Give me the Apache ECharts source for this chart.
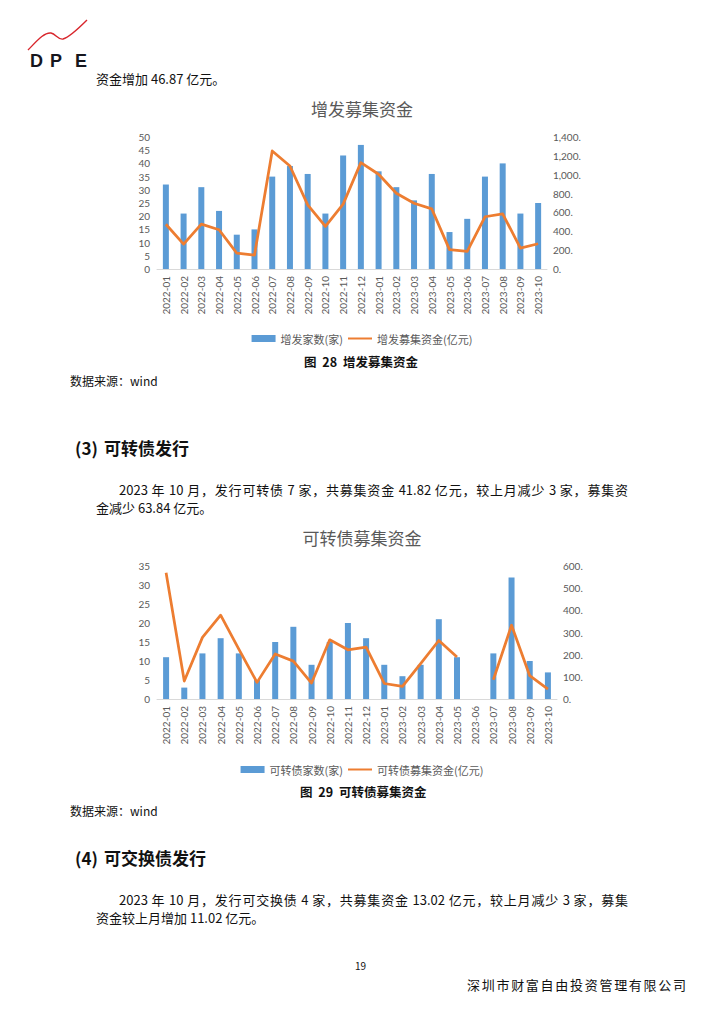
<!DOCTYPE html>
<html><head><meta charset="utf-8">
<script src="https://cdn.jsdelivr.net/npm/echarts/dist/echarts.min.js"></script>
<style>
html,body{margin:0;padding:0;background:#fff;}
body{width:724px;height:1024px;position:relative;overflow:hidden;font-family:"Noto Sans CJK SC","Noto Sans",sans-serif;color:#111;}
.t{position:absolute;white-space:nowrap;line-height:1;}
.p{font-size:13px;}
.j{text-align:justify;text-align-last:justify;}
.h{font-size:17px;font-weight:bold;}
.cap{font-size:12.5px;font-weight:bold;word-spacing:3px;}
.src{font-size:12px;}
#chart{position:absolute;left:0;top:0;width:724px;height:1024px;}
</style>
</head><body>
<div id="chart"></div>
<svg style="position:absolute;left:0;top:0" width="100" height="70">
  <path d="M28,50 C36,42 44,32 51,33 C56,34 58,40 63,39 C70,37 80,27 87,20" fill="none" stroke="#d8262c" stroke-width="1.4"/>
</svg>
<div class="t" style="left:30px;top:52px;font-size:18px;font-weight:bold;font-family:'Liberation Sans',Arial,sans-serif;color:#16161e;">D</div>
<div class="t" style="left:50px;top:52px;font-size:18px;font-weight:bold;font-family:'Liberation Sans',Arial,sans-serif;color:#16161e;">P</div>
<div class="t" style="left:75px;top:52px;font-size:18px;font-weight:bold;font-family:'Liberation Sans',Arial,sans-serif;color:#16161e;">E</div>

<div class="t p" style="left:96px;top:72px;">资金增加 46.87 亿元。</div>

<div class="t cap" style="left:304px;top:356px;">图 28 增发募集资金</div>
<div class="t src" style="left:70px;top:375px;">数据来源：wind</div>

<div class="t h" style="left:75px;top:439px;">(3)<span style="margin-left:6px">可转债发行</span></div>
<div class="t p j" style="left:119px;top:483px;width:509px;">2023 年 10 月，发行可转债 7 家，共募集资金 41.82 亿元，较上月减少 3 家，募集资</div>
<div class="t p" style="left:96px;top:501px;">金减少 63.84 亿元。</div>

<div class="t cap" style="left:300px;top:786px;">图 29 可转债募集资金</div>
<div class="t src" style="left:70px;top:805px;">数据来源：wind</div>

<div class="t h" style="left:75px;top:849px;">(4)<span style="margin-left:6px">可交换债发行</span></div>
<div class="t p j" style="left:119px;top:893px;width:509px;">2023 年 10 月，发行可交换债 4 家，共募集资金 13.02 亿元，较上月减少 3 家，募集</div>
<div class="t p" style="left:96px;top:911px;">资金较上月增加 11.02 亿元。</div>

<div class="t" style="left:355px;top:961px;font-size:10px;">19</div>
<div class="t j" style="left:467px;top:978px;width:219px;font-size:13px;">深圳市财富自由投资管理有限公司</div>

<script>
// ---- data ----
const months = ['2022-01','2022-02','2022-03','2022-04','2022-05','2022-06','2022-07','2022-08','2022-09','2022-10','2022-11','2022-12',
                '2023-01','2023-02','2023-03','2023-04','2023-05','2023-06','2023-07','2023-08','2023-09','2023-10'];
const zfCount  = [32,21,31,22,13,15,35,39,36,21,43,47,37,31,26,36,14,19,35,40,21,25];
const zfAmount = [475,264,476,416,169,148,1252,1093,680,451,688,1128,1005,804,698,638,205,187,554,585,222,268];
const kzzCount  = [11,3,12,16,12,5,15,19,9,15,20,16,9,6,9,21,11,0,12,32,10,7];
const kzzAmount = [570,81,278,378,225,75,203,171,72,267,222,234,70,57,160,264,189,null,87,333,105,45];
const zfNames  = ['增发家数(家)','增发募集资金(亿元)'];
const kzzNames = ['可转债家数(家)','可转债募集资金(亿元)'];
const chartTitles = ['增发募集资金','可转债募集资金'];

const BLUE = '#5B9BD5', ORANGE = '#ED7D31', GREY = '#595959';
const numFont = 'Lato, "Noto Sans", sans-serif';
const cjkFont = '"Noto Sans CJK SC", sans-serif';

function xAx(gi){
  return {type:'category', gridIndex:gi, data:months, boundaryGap:true,
    axisTick:{show:false}, axisLine:{show:true, lineStyle:{color:'#D9D9D9', width:1}},
    axisLabel:{rotate:90, interval:0, fontSize:10, color:GREY, margin:7, fontFamily:numFont}};
}
function yAx(gi, pos, max, interval, fmt, margin){
  return {type:'value', gridIndex:gi, position:pos, min:0, max:max, interval:interval,
    splitLine:{show:false}, axisLine:{show:false}, axisTick:{show:false},
    axisLabel:{fontSize:10, color:GREY, margin:margin, fontFamily:numFont, formatter:fmt}};
}
const dotFmt = v => v.toLocaleString('en-US') + '.';
function legendData(names){
  return [{name:names[0], icon:'rect'},
          {name:names[1], itemStyle:{opacity:0}}];
}

const chart = echarts.init(document.getElementById('chart'), null, {renderer:'svg'});
chart.setOption({
  backgroundColor:'transparent',
  animation:false,
  title:[
    {text:chartTitles[0], left:'center', top:95, textStyle:{fontSize:17, fontWeight:'normal', color:GREY, fontFamily:cjkFont}},
    {text:chartTitles[1], left:'center', top:524, textStyle:{fontSize:17, fontWeight:'normal', color:GREY, fontFamily:cjkFont}}
  ],
  legend:[
    {data:legendData(zfNames), left:'center', top:328, itemWidth:24, itemHeight:7, itemGap:4,
     textStyle:{fontSize:11, color:GREY, fontFamily:cjkFont}},
    {data:legendData(kzzNames), left:'center', top:759, itemWidth:24, itemHeight:7, itemGap:4,
     textStyle:{fontSize:11, color:GREY, fontFamily:cjkFont}}
  ],
  grid:[
    {left:157, top:137, width:390, height:132},
    {left:157, top:566, width:400, height:133}
  ],
  xAxis:[xAx(0), xAx(1)],
  yAxis:[
    yAx(0,'left',50,5,null,7),
    yAx(0,'right',1400,200,dotFmt,6),
    yAx(1,'left',35,5,null,7),
    yAx(1,'right',600,100,dotFmt,6)
  ],
  series:[
    {name:zfNames[0], type:'bar', xAxisIndex:0, yAxisIndex:0, data:zfCount, barWidth:6, itemStyle:{color:BLUE}},
    {name:zfNames[1], type:'line', xAxisIndex:0, yAxisIndex:1, data:zfAmount, symbol:'none',
     lineStyle:{color:ORANGE, width:2.75, join:'round'}, itemStyle:{color:ORANGE}},
    {name:kzzNames[0], type:'bar', xAxisIndex:1, yAxisIndex:2, data:kzzCount, barWidth:6, itemStyle:{color:BLUE}},
    {name:kzzNames[1], type:'line', xAxisIndex:1, yAxisIndex:3, data:kzzAmount, symbol:'none', connectNulls:false,
     lineStyle:{color:ORANGE, width:2.75, join:'round'}, itemStyle:{color:ORANGE}}
  ]
});
</script>
</body></html>
